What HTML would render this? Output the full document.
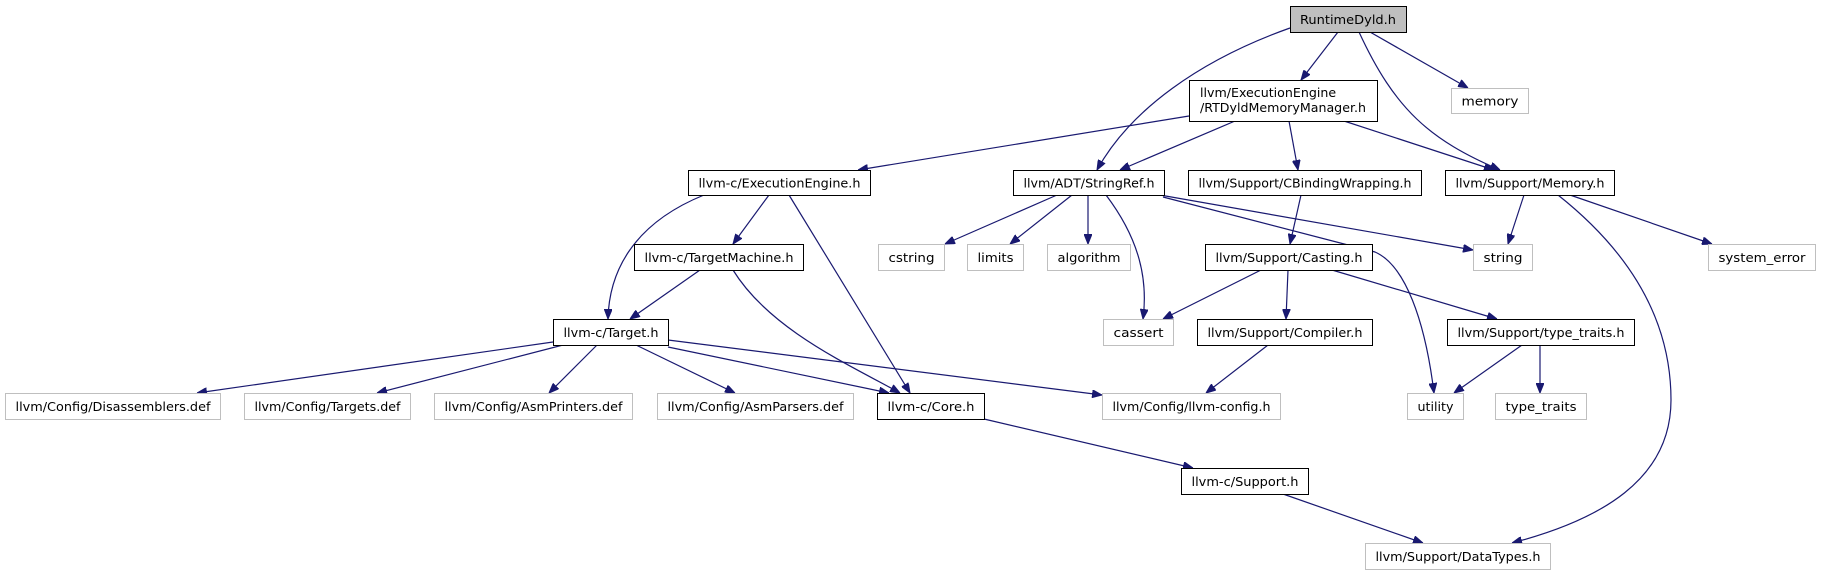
<!DOCTYPE html>
<html><head><meta charset="utf-8"><style>
html,body{margin:0;padding:0;background:#fff;}
svg{display:block;}
text{font-family:"DejaVu Sans","Liberation Sans",sans-serif;font-size:12.5px;fill:#000;}
.e{fill:none;stroke:#191970;stroke-width:1.2;}
</style></head><body>
<svg width="1821" height="575" viewBox="0 0 1821 575" xmlns="http://www.w3.org/2000/svg">
<defs>
<marker id="ah" viewBox="0 0 10 8" refX="10" refY="4" markerWidth="10" markerHeight="8" markerUnits="userSpaceOnUse" orient="auto">
<path d="M0,0 L10,4 L0,8 z" fill="#191970" stroke="#191970"/>
</marker>
</defs>
<g id="edges">
<path class="e" marker-end="url(#ah)" d="M1290,28 C1200,60 1130,110 1097,170"/>
<path class="e" marker-end="url(#ah)" d="M1338,32 L1301,80"/>
<path class="e" marker-end="url(#ah)" d="M1359,32 C1395,110 1430,140 1500,170"/>
<path class="e" marker-end="url(#ah)" d="M1370,32 L1468,88"/>
<path class="e" marker-end="url(#ah)" d="M1189,116 L858,170"/>
<path class="e" marker-end="url(#ah)" d="M1235,121 L1120,170"/>
<path class="e" marker-end="url(#ah)" d="M1289,121 L1298,170"/>
<path class="e" marker-end="url(#ah)" d="M1344,121 L1494,170"/>
<path class="e" marker-end="url(#ah)" d="M704,195 C630,225 609,275 608,319"/>
<path class="e" marker-end="url(#ah)" d="M769,195 L733,244"/>
<path class="e" marker-end="url(#ah)" d="M789,195 L910,393"/>
<path class="e" marker-end="url(#ah)" d="M700,270 L630,319"/>
<path class="e" marker-end="url(#ah)" d="M733,270 C770,330 850,365 900,393"/>
<path class="e" marker-end="url(#ah)" d="M1057,195 L945,244"/>
<path class="e" marker-end="url(#ah)" d="M1072,195 L1010,244"/>
<path class="e" marker-end="url(#ah)" d="M1088,195 L1088,244"/>
<path class="e" marker-end="url(#ah)" d="M1106,195 C1140,240 1148,280 1143,319"/>
<path class="e" marker-end="url(#ah)" d="M1160,195 L1473,250"/>
<path class="e" marker-end="url(#ah)" d="M1163,197 L1375,252 C1405,265 1425,320 1434,393"/>
<path class="e" marker-end="url(#ah)" d="M1301,195 L1290,244"/>
<path class="e" marker-end="url(#ah)" d="M1524,195 L1508,244"/>
<path class="e" marker-end="url(#ah)" d="M1570,195 L1712,244"/>
<path class="e" marker-end="url(#ah)" d="M1558,195 C1640,260 1671,330 1671,400 C1671,480 1600,520 1512,543"/>
<path class="e" marker-end="url(#ah)" d="M1261,270 L1163,319"/>
<path class="e" marker-end="url(#ah)" d="M1288,270 L1286,319"/>
<path class="e" marker-end="url(#ah)" d="M1332,270 L1497,319"/>
<path class="e" marker-end="url(#ah)" d="M1268,345 L1206,393"/>
<path class="e" marker-end="url(#ah)" d="M1522,345 L1454,393"/>
<path class="e" marker-end="url(#ah)" d="M1540,345 L1540,393"/>
<path class="e" marker-end="url(#ah)" d="M553,342 L197,393"/>
<path class="e" marker-end="url(#ah)" d="M563,345 L377,393"/>
<path class="e" marker-end="url(#ah)" d="M597,345 L549,393"/>
<path class="e" marker-end="url(#ah)" d="M636,345 L735,393"/>
<path class="e" marker-end="url(#ah)" d="M668,347 L889,393"/>
<path class="e" marker-end="url(#ah)" d="M668,340 L1102,395"/>
<path class="e" marker-end="url(#ah)" d="M984,419 L1193,468"/>
<path class="e" marker-end="url(#ah)" d="M1283,494 L1423,543"/>
</g>
<g id="nodes">
<g><rect x="1290.5" y="6.5" width="116" height="26" fill="#bfbfbf" stroke="#000"/><text x="1348" y="24" text-anchor="middle">RuntimeDyld.h</text></g>
<g><rect x="1189.5" y="80.5" width="188" height="41" fill="#fff" stroke="#000"/><text x="1200" y="97">llvm/ExecutionEngine</text><text x="1200" y="112">/RTDyldMemoryManager.h</text></g>
<g><rect x="1451.5" y="88.5" width="77" height="25" fill="#fff" stroke="#bfbfbf"/><text x="1490" y="105.5" text-anchor="middle">memory</text></g>
<g><rect x="688.5" y="170.5" width="182" height="25" fill="#fff" stroke="#000"/><text x="779.5" y="187.5" text-anchor="middle">llvm-c/ExecutionEngine.h</text></g>
<g><rect x="1013.5" y="170.5" width="151" height="25" fill="#fff" stroke="#000"/><text x="1089" y="187.5" text-anchor="middle">llvm/ADT/StringRef.h</text></g>
<g><rect x="1188.5" y="170.5" width="233" height="25" fill="#fff" stroke="#000"/><text x="1305" y="187.5" text-anchor="middle">llvm/Support/CBindingWrapping.h</text></g>
<g><rect x="1445.5" y="170.5" width="169" height="25" fill="#fff" stroke="#000"/><text x="1530" y="187.5" text-anchor="middle">llvm/Support/Memory.h</text></g>
<g><rect x="634.5" y="244.5" width="169" height="26" fill="#fff" stroke="#000"/><text x="719" y="262" text-anchor="middle">llvm-c/TargetMachine.h</text></g>
<g><rect x="878.5" y="244.5" width="66" height="26" fill="#fff" stroke="#bfbfbf"/><text x="911.5" y="262" text-anchor="middle">cstring</text></g>
<g><rect x="967.5" y="244.5" width="56" height="26" fill="#fff" stroke="#bfbfbf"/><text x="995.5" y="262" text-anchor="middle">limits</text></g>
<g><rect x="1047.5" y="244.5" width="83" height="26" fill="#fff" stroke="#bfbfbf"/><text x="1089" y="262" text-anchor="middle">algorithm</text></g>
<g><rect x="1205.5" y="244.5" width="167" height="26" fill="#fff" stroke="#000"/><text x="1289" y="262" text-anchor="middle">llvm/Support/Casting.h</text></g>
<g><rect x="1473.5" y="244.5" width="59" height="26" fill="#fff" stroke="#bfbfbf"/><text x="1503" y="262" text-anchor="middle">string</text></g>
<g><rect x="1708.5" y="244.5" width="107" height="26" fill="#fff" stroke="#bfbfbf"/><text x="1762" y="262" text-anchor="middle">system_error</text></g>
<g><rect x="553.5" y="319.5" width="115" height="26" fill="#fff" stroke="#000"/><text x="611" y="337" text-anchor="middle">llvm-c/Target.h</text></g>
<g><rect x="1103.5" y="319.5" width="70" height="26" fill="#fff" stroke="#bfbfbf"/><text x="1138.5" y="337" text-anchor="middle">cassert</text></g>
<g><rect x="1197.5" y="319.5" width="175" height="26" fill="#fff" stroke="#000"/><text x="1285" y="337" text-anchor="middle">llvm/Support/Compiler.h</text></g>
<g><rect x="1447.5" y="319.5" width="187" height="26" fill="#fff" stroke="#000"/><text x="1541" y="337" text-anchor="middle">llvm/Support/type_traits.h</text></g>
<g><rect x="5.5" y="393.5" width="215" height="26" fill="#fff" stroke="#bfbfbf"/><text x="113" y="411" text-anchor="middle">llvm/Config/Disassemblers.def</text></g>
<g><rect x="244.5" y="393.5" width="166" height="26" fill="#fff" stroke="#bfbfbf"/><text x="327.5" y="411" text-anchor="middle">llvm/Config/Targets.def</text></g>
<g><rect x="434.5" y="393.5" width="198" height="26" fill="#fff" stroke="#bfbfbf"/><text x="533.5" y="411" text-anchor="middle">llvm/Config/AsmPrinters.def</text></g>
<g><rect x="657.5" y="393.5" width="196" height="26" fill="#fff" stroke="#bfbfbf"/><text x="755.5" y="411" text-anchor="middle">llvm/Config/AsmParsers.def</text></g>
<g><rect x="877.5" y="393.5" width="107" height="26" fill="#fff" stroke="#000"/><text x="931" y="411" text-anchor="middle">llvm-c/Core.h</text></g>
<g><rect x="1102.5" y="393.5" width="178" height="26" fill="#fff" stroke="#bfbfbf"/><text x="1191.5" y="411" text-anchor="middle">llvm/Config/llvm-config.h</text></g>
<g><rect x="1407.5" y="393.5" width="56" height="26" fill="#fff" stroke="#bfbfbf"/><text x="1435.5" y="411" text-anchor="middle">utility</text></g>
<g><rect x="1495.5" y="393.5" width="91" height="26" fill="#fff" stroke="#bfbfbf"/><text x="1541" y="411" text-anchor="middle">type_traits</text></g>
<g><rect x="1181.5" y="468.5" width="127" height="26" fill="#fff" stroke="#000"/><text x="1245" y="486" text-anchor="middle">llvm-c/Support.h</text></g>
<g><rect x="1365.5" y="543.5" width="185" height="26" fill="#fff" stroke="#bfbfbf"/><text x="1458" y="561" text-anchor="middle">llvm/Support/DataTypes.h</text></g>
</g>
</svg>
<script>
document.querySelectorAll('#nodes > g').forEach(function(g){
  var r=g.querySelector('rect');var w=parseFloat(r.getAttribute('width'));
  var ts=g.querySelectorAll('text');
  if(ts.length===1){ts[0].setAttribute('textLength',w-20);ts[0].setAttribute('lengthAdjust','spacingAndGlyphs');}
  else{ts[0].setAttribute('textLength',(w-22)*0.82);ts[1].setAttribute('textLength',w-22);
    ts[0].setAttribute('lengthAdjust','spacingAndGlyphs');ts[1].setAttribute('lengthAdjust','spacingAndGlyphs');}
});
</script>
</body></html>
